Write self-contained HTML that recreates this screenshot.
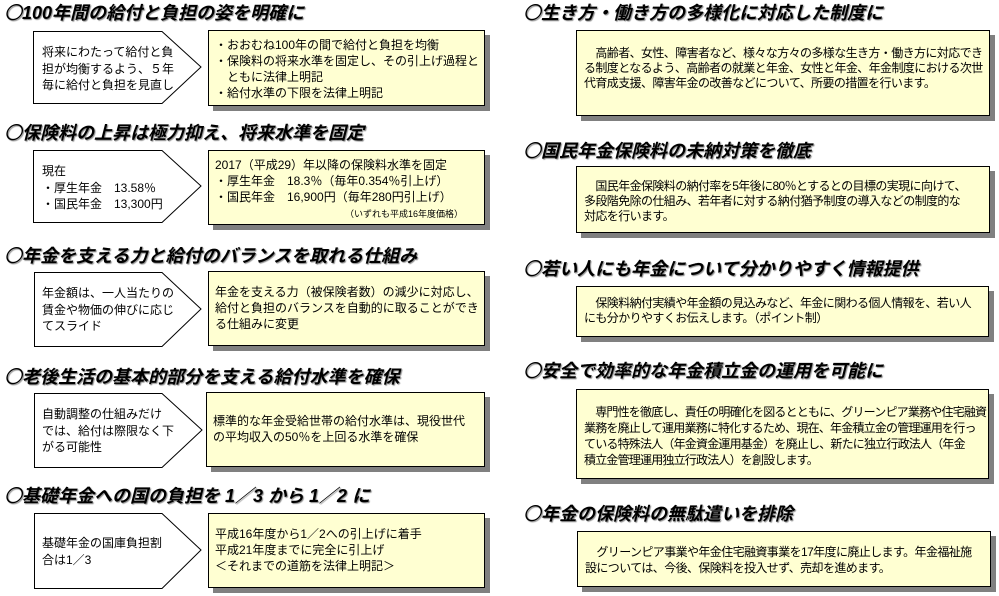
<!DOCTYPE html>
<html><head><meta charset="utf-8"><style>
body{margin:0;width:999px;height:596px;background:#fff;position:relative;overflow:hidden;font-family:"Liberation Sans","Noto Sans CJK JP",sans-serif;color:#000}
.h{position:absolute;font-size:18px;font-weight:bold;font-style:italic;white-space:nowrap;text-shadow:1px 1px 1px #888;line-height:22px}
.h b{font-family:"Noto Sans CJK JP",sans-serif;font-weight:normal}
.y{position:absolute;background:#ffffd2;border:1px solid #000;box-shadow:5px 5px 0 #808080;font-size:12px;line-height:16px;white-space:nowrap;box-sizing:border-box}
.r{letter-spacing:-0.6px;overflow:hidden}
.p{position:absolute}
.t{position:absolute;font-size:12px;line-height:16.5px;white-space:nowrap}
</style></head><body>

<div class="h" style="left:4px;top:1px"><b>〇</b>100年間の給付と負担の姿を明確に</div>
<div class="h" style="left:4px;top:121px"><b>〇</b>保険料の上昇は極力抑え、将来水準を固定</div>
<div class="h" style="left:4px;top:244px"><b>〇</b>年金を支える力と給付のバランスを取れる仕組み</div>
<div class="h" style="left:4px;top:365px"><b>〇</b>老後生活の基本的部分を支える給付水準を確保</div>
<div class="h" style="left:4px;top:484px"><b>〇</b>基礎年金への国の負担を 1／3 から 1／2 に</div>

<svg class="p" style="left:0;top:0" width="999" height="596">
<g fill="#fff" stroke="#000" stroke-width="1">
<polygon points="33.5,31.5 162,31.5 201,67 162,103.5 33.5,103.5"/>
<polygon points="33.5,150.5 162,150.5 201,186 162,222.5 33.5,222.5"/>
<polygon points="34.5,272.5 162,272.5 201,309 162,346.5 34.5,346.5"/>
<polygon points="34.5,393.5 162,393.5 202,430 162,467.5 34.5,467.5"/>
<polygon points="34.5,513.5 162,513.5 201,550 162,588.5 34.5,588.5"/>
</g></svg>

<div class="t" style="left:42px;top:44px">将来にわたって給付と負<br>担が均衡するよう、５年<br>毎に給付と負担を見直し</div>
<div class="t" style="left:42px;top:163px">現在<br>・厚生年金　13.58％<br>・国民年金　13,300円</div>
<div class="t" style="left:42px;top:285px">年金額は、一人当たりの<br>賃金や物価の伸びに応じ<br>てスライド</div>
<div class="t" style="left:42px;top:406px">自動調整の仕組みだけ<br>では、給付は際限なく下<br>がる可能性</div>
<div class="t" style="left:42px;top:535px">基礎年金の国庫負担割<br>合は1／3</div>

<div class="y" style="left:208px;top:30px;width:277px;height:76px;padding:6px 0 0 6px">・おおむね100年の間で給付と負担を均衡<br>・保険料の将来水準を固定し、その引上げ過程と<br>　ともに法律上明記<br>・給付水準の下限を法律上明記</div>
<div class="y" style="left:208px;top:150px;width:277px;height:75px;padding:6px 0 0 6px">2017（平成29）年以降の保険料水準を固定<br>・厚生年金　18.3％（毎年0.354％引上げ）<br>・国民年金　16,900円（毎年280円引上げ）<br><span style="font-size:9px;padding-left:130px">（いずれも平成16年度価格）</span></div>
<div class="y" style="left:208px;top:271px;width:277px;height:75px;padding:12px 0 0 6px">年金を支える力（被保険者数）の減少に対応し、<br>給付と負担のバランスを自動的に取ることができ<br>る仕組みに変更</div>
<div class="y" style="left:206px;top:392px;width:279px;height:75px;padding:20px 0 0 6px">標準的な年金受給世帯の給付水準は、現役世代<br>の平均収入の50％を上回る水準を確保</div>
<div class="y" style="left:208px;top:513px;width:277px;height:75px;padding:12px 0 0 6px">平成16年度から1／2への引上げに着手<br>平成21年度までに完全に引上げ<br>＜それまでの道筋を法律上明記＞</div>

<div class="h" style="left:523px;top:1px"><b>〇</b>生き方・働き方の多様化に対応した制度に</div>
<div class="h" style="left:523px;top:139px"><b>〇</b>国民年金保険料の未納対策を徹底</div>
<div class="h" style="left:523px;top:257px"><b>〇</b>若い人にも年金について分かりやすく情報提供</div>
<div class="h" style="left:523px;top:359px"><b>〇</b>安全で効率的な年金積立金の運用を可能に</div>
<div class="h" style="left:523px;top:502px"><b>〇</b>年金の保険料の無駄遣いを排除</div>

<div class="y r" style="left:576px;top:30px;width:414px;height:86px;padding:15px 0 0 7px;line-height:15px">　高齢者、女性、障害者など、様々な方々の多様な生き方・働き方に対応でき<br>る制度となるよう、高齢者の就業と年金、女性と年金、年金制度における次世<br>代育成支援、障害年金の改善などについて、所要の措置を行います。</div>
<div class="y r" style="left:576px;top:166px;width:414px;height:67px;padding:12px 0 0 7px;line-height:15px">　国民年金保険料の納付率を5年後に80％とするとの目標の実現に向けて、<br>多段階免除の仕組み、若年者に対する納付猶予制度の導入などの制度的な<br>対応を行います。</div>
<div class="y r" style="left:576px;top:286px;width:413px;height:51px;padding:9px 0 0 7px;line-height:15px">　保険料納付実績や年金額の見込みなど、年金に関わる個人情報を、若い人<br>にも分かりやすくお伝えします。（ポイント制）</div>
<div class="y r" style="left:576px;top:389px;width:413px;height:90px;padding:14px 0 0 7px;line-height:16px;letter-spacing:-0.8px">　専門性を徹底し、責任の明確化を図るとともに、グリーンピア業務や住宅融資<br>業務を廃止して運用業務に特化するため、現在、年金積立金の管理運用を行っ<br>ている特殊法人（年金資金運用基金）を廃止し、新たに独立行政法人（年金<br>積立金管理運用独立行政法人）を創設します。</div>
<div class="y r" style="left:577px;top:531px;width:414px;height:56px;padding:12px 0 0 7px;line-height:16px">　グリーンピア事業や年金住宅融資事業を17年度に廃止します。年金福祉施<br>設については、今後、保険料を投入せず、売却を進めます。</div>

</body></html>
